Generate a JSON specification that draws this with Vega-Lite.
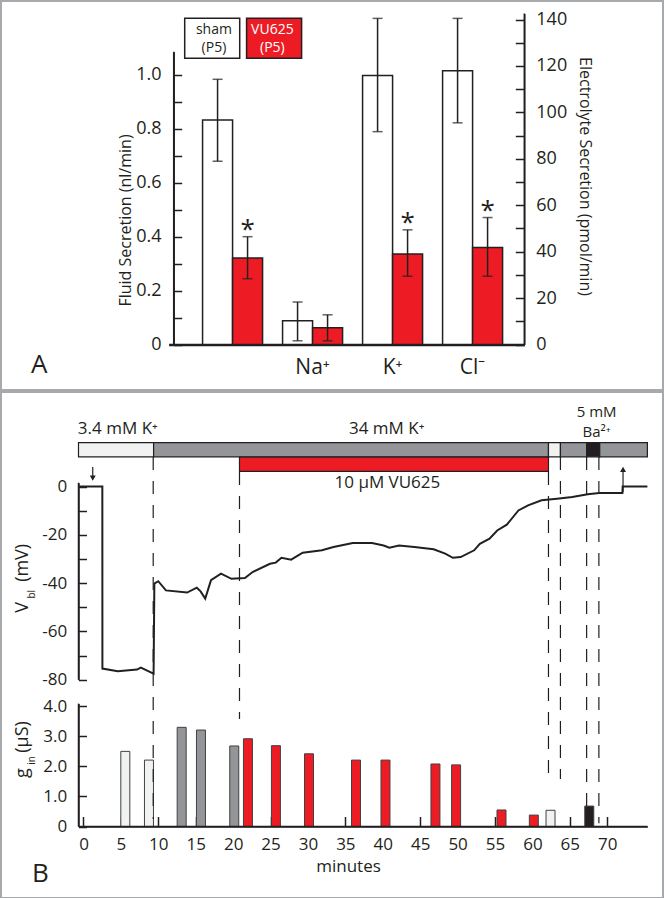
{
  "$schema": "https://vega.github.io/schema/vega-lite/v6.json",
  "background": "white",
  "padding": 0,
  "spacing": 0,
  "config": {
    "font": "Open Sans",
    "axis": {"domainColor": "#231f20", "tickColor": "#231f20", "labelColor": "#231f20", "titleColor": "#231f20", "domainWidth": 1.5, "tickWidth": 1.5, "grid": false, "labelFont": "Open Sans", "titleFont": "Open Sans", "titleFontWeight": "normal", "labelFlush": false, "labelOverlap": false},
    "text": {"font": "Open Sans", "color": "#231f20"}
  },
  "datasets": {
    "fluid": [
      {"group": "Fluid", "series": "sham", "val": 0.833, "lo": 0.680, "hi": 0.984, "star": false},
      {"group": "Fluid", "series": "VU625", "val": 0.321, "lo": 0.244, "hi": 0.400, "star": true}
    ],
    "ions": [
      {"group": "Na⁺", "series": "sham", "val": 10.2, "lo": 1.6, "hi": 18.3, "star": false},
      {"group": "Na⁺", "series": "VU625", "val": 7.2, "lo": 1.6, "hi": 12.8, "star": false},
      {"group": "K⁺", "series": "sham", "val": 115.9, "lo": 91.7, "hi": 140.5, "star": false},
      {"group": "K⁺", "series": "VU625", "val": 39.0, "lo": 29.4, "hi": 49.4, "star": true},
      {"group": "Cl⁻", "series": "sham", "val": 117.9, "lo": 95.5, "hi": 140.5, "star": false},
      {"group": "Cl⁻", "series": "VU625", "val": 41.8, "lo": 29.4, "hi": 54.7, "star": true}
    ],
    "legend": [
      {"series": "sham", "row": "lg"},
      {"series": "VU625", "row": "lg"}
    ],
    "legendText": [
      {"series": "sham", "line": "1", "txt": "sham"},
      {"series": "sham", "line": "2", "txt": "(P5)"},
      {"series": "VU625", "line": "1", "txt": "VU625"},
      {"series": "VU625", "line": "2", "txt": "(P5)"}
    ],
    "gin": [
      {"t": 5.59, "g": 2.50, "cond": "light"},
      {"t": 8.75, "g": 2.21, "cond": "light"},
      {"t": 13.12, "g": 3.30, "cond": "gray"},
      {"t": 15.70, "g": 3.21, "cond": "gray"},
      {"t": 20.15, "g": 2.68, "cond": "gray"},
      {"t": 21.98, "g": 2.92, "cond": "red"},
      {"t": 25.72, "g": 2.69, "cond": "red"},
      {"t": 30.14, "g": 2.42, "cond": "red"},
      {"t": 36.42, "g": 2.21, "cond": "red"},
      {"t": 40.36, "g": 2.21, "cond": "red"},
      {"t": 47.04, "g": 2.08, "cond": "red"},
      {"t": 49.80, "g": 2.05, "cond": "red"},
      {"t": 55.87, "g": 0.55, "cond": "red"},
      {"t": 60.19, "g": 0.38, "cond": "red"},
      {"t": 62.42, "g": 0.54, "cond": "light"},
      {"t": 67.60, "g": 0.68, "cond": "black"}
    ],
    "trace": [
      {"t": 0.10, "v": 0}, {"t": 3.13, "v": 0}, {"t": 3.14, "v": -75.4}, {"t": 5.16, "v": -76.5},
      {"t": 7.69, "v": -75.8}, {"t": 8.19, "v": -75.0}, {"t": 8.95, "v": -76.1}, {"t": 9.86, "v": -77.5},
      {"t": 9.96, "v": -40.2}, {"t": 10.47, "v": -39.2}, {"t": 11.48, "v": -43.0}, {"t": 14.26, "v": -43.9},
      {"t": 15.53, "v": -41.9}, {"t": 16.03, "v": -43.4}, {"t": 16.64, "v": -46.4}, {"t": 17.40, "v": -38.8},
      {"t": 18.71, "v": -36.1}, {"t": 20.08, "v": -38.2}, {"t": 21.85, "v": -37.9}, {"t": 22.86, "v": -35.4},
      {"t": 25.14, "v": -32.0}, {"t": 25.90, "v": -31.5}, {"t": 26.65, "v": -29.5}, {"t": 27.92, "v": -30.3},
      {"t": 29.44, "v": -27.4}, {"t": 31.97, "v": -26.4}, {"t": 33.48, "v": -25.0}, {"t": 36.01, "v": -23.4},
      {"t": 38.54, "v": -23.4}, {"t": 40.06, "v": -24.4}, {"t": 40.82, "v": -25.3}, {"t": 42.08, "v": -24.4},
      {"t": 44.11, "v": -25.0}, {"t": 46.63, "v": -26.0}, {"t": 48.15, "v": -27.8}, {"t": 49.16, "v": -29.5},
      {"t": 50.18, "v": -29.2}, {"t": 51.95, "v": -26.4}, {"t": 52.70, "v": -23.7}, {"t": 53.97, "v": -21.6},
      {"t": 54.98, "v": -18.2}, {"t": 56.24, "v": -15.8}, {"t": 57.76, "v": -9.9}, {"t": 59.03, "v": -7.8},
      {"t": 60.80, "v": -5.7}, {"t": 62.82, "v": -5.0}, {"t": 64.84, "v": -4.3}, {"t": 66.87, "v": -3.2},
      {"t": 68.38, "v": -2.7}, {"t": 71.42, "v": -2.7}, {"t": 71.45, "v": 0}, {"t": 74.7, "v": 0}
    ]
  },
  "resolve": {"scale": {"color": "independent"}},
  "vconcat": [
    {
      "width": 662,
      "height": 389,
      "view": {"stroke": "#a7a9ac", "strokeWidth": 2},
      "title": {"text": "A", "orient": "bottom", "anchor": "start", "frame": "group", "offset": -17, "dx": 30, "fontSize": 26, "fontWeight": "normal", "font": "Open Sans", "color": "#231f20", "baseline": "alphabetic"},
      "resolve": {"scale": {"x": "independent", "y": "independent"}},
      "layer": [
        {
          "data": {"name": "fluid"},
          "mark": {"type": "bar", "stroke": "#231f20", "strokeWidth": 1.5},
          "encoding": {
            "x": {"field": "group", "type": "nominal", "scale": {"domain": ["Fluid", "Na⁺", "K⁺", "Cl⁻"], "range": [167.6, 523.3], "paddingInner": 0.25, "paddingOuter": 0.348, "align": 0.61}, "axis": null},
            "xOffset": {"field": "series", "type": "nominal", "scale": {"domain": ["sham", "VU625"], "range": [0, 60]}},
            "y": {"field": "val", "type": "quantitative", "stack": null, "scale": {"domain": [0, 1.086], "range": [343.5, 50.8], "nice": false, "zero": false},
                  "axis": {"orient": "left", "offset": -172.7, "values": [0, 0.1, 0.2, 0.3, 0.4, 0.5, 0.6, 0.7, 0.8, 0.9, 1.0], "labelExpr": "round(datum.value * 10) % 2 === 0 ? (datum.value === 0 ? '0' : format(datum.value, '.1f')) : ''", "domain": true, "ticks": true, "tickSize": -8, "labelPadding": 20.7, "labelFontSize": 18, "title": "Fluid Secretion (nl/min)", "titleFontSize": 16, "titleAngle": 270, "titleX": -47.9, "titleY": 219, "titleAlign": "center", "titleBaseline": "middle",
                           "encode": {"ticks": {"update": {"stroke": {"value": "#231f20"}, "strokeOpacity": {"value": 1}, "opacity": {"value": 1}}}, "domain": {"update": {"stroke": {"value": "#231f20"}, "strokeOpacity": {"value": 1}, "opacity": {"value": 1}}}}}},
            "y2": {"datum": 0},
            "color": {"field": "series", "type": "nominal", "scale": {"domain": ["sham", "VU625"], "range": ["#ffffff", "#ed1c24"]}, "legend": null}
          }
        },
        {
          "data": {"name": "fluid"},
          "mark": {"type": "rule", "color": "#231f20", "strokeWidth": 1.5},
          "encoding": {
            "x": {"field": "group", "type": "nominal", "scale": {"domain": ["Fluid", "Na⁺", "K⁺", "Cl⁻"], "range": [167.6, 523.3], "paddingInner": 0.25, "paddingOuter": 0.348, "align": 0.61}, "axis": null},
            "xOffset": {"field": "series", "type": "nominal", "scale": {"domain": ["sham", "VU625"], "range": [0, 60]}},
            "y": {"field": "lo", "type": "quantitative", "scale": {"domain": [0, 1.086], "range": [343.5, 50.8], "nice": false, "zero": false}, "axis": null},
            "y2": {"field": "hi"}
          }
        },
        {
          "data": {"name": "fluid"},
          "mark": {"type": "tick", "color": "#231f20", "size": 10, "thickness": 1.5},
          "encoding": {
            "x": {"field": "group", "type": "nominal", "scale": {"domain": ["Fluid", "Na⁺", "K⁺", "Cl⁻"], "range": [167.6, 523.3], "paddingInner": 0.25, "paddingOuter": 0.348, "align": 0.61}, "axis": null},
            "xOffset": {"field": "series", "type": "nominal", "scale": {"domain": ["sham", "VU625"], "range": [0, 60]}},
            "y": {"field": "lo", "type": "quantitative", "scale": {"domain": [0, 1.086], "range": [343.5, 50.8], "nice": false, "zero": false}, "axis": null}
          }
        },
        {
          "data": {"name": "fluid"},
          "mark": {"type": "tick", "color": "#231f20", "size": 10, "thickness": 1.5},
          "encoding": {
            "x": {"field": "group", "type": "nominal", "scale": {"domain": ["Fluid", "Na⁺", "K⁺", "Cl⁻"], "range": [167.6, 523.3], "paddingInner": 0.25, "paddingOuter": 0.348, "align": 0.61}, "axis": null},
            "xOffset": {"field": "series", "type": "nominal", "scale": {"domain": ["sham", "VU625"], "range": [0, 60]}},
            "y": {"field": "hi", "type": "quantitative", "scale": {"domain": [0, 1.086], "range": [343.5, 50.8], "nice": false, "zero": false}, "axis": null}
          }
        },
        {
          "data": {"name": "fluid"},
          "transform": [{"filter": "datum.star"}],
          "mark": {"type": "text", "text": "*", "fontSize": 26, "baseline": "alphabetic", "dy": 1},
          "encoding": {
            "x": {"field": "group", "type": "nominal", "scale": {"domain": ["Fluid", "Na⁺", "K⁺", "Cl⁻"], "range": [167.6, 523.3], "paddingInner": 0.25, "paddingOuter": 0.348, "align": 0.61}, "axis": null},
            "xOffset": {"field": "series", "type": "nominal", "scale": {"domain": ["sham", "VU625"], "range": [0, 60]}},
            "y": {"field": "hi", "type": "quantitative", "scale": {"domain": [0, 1.086], "range": [343.5, 50.8], "nice": false, "zero": false}, "axis": null}
          }
        },
        {
          "data": {"values": [{"side": "left", "lo": 0, "hi": 1.086}]},
          "mark": {"type": "rule", "color": "#231f20", "strokeWidth": 1.5},
          "encoding": {
            "x": {"field": "side", "type": "nominal", "scale": {"type": "point", "domain": ["left", "right"], "range": [172.7, 523.3], "padding": 0}, "axis": null},
            "y": {"field": "lo", "type": "quantitative", "scale": {"domain": [0, 1.086], "range": [343.5, 50.8], "nice": false, "zero": false}, "axis": null},
            "y2": {"field": "hi"}
          }
        },
        {
          "data": {"name": "ions"},
          "mark": {"type": "bar", "stroke": "#231f20", "strokeWidth": 1.5},
          "encoding": {
            "x": {"field": "group", "type": "nominal", "scale": {"domain": ["Fluid", "Na⁺", "K⁺", "Cl⁻"], "range": [167.6, 523.3], "paddingInner": 0.25, "paddingOuter": 0.348, "align": 0.61},
                  "axis": {"orient": "bottom", "offset": -45.5, "ticks": false, "tickSize": 0, "domain": true, "domainWidth": 2.5, "labelPadding": 22.5, "labelBaseline": "middle", "labelFontSize": 21, "labelAngle": 0, "labelExpr": "datum.value === 'Fluid' ? '' : datum.value", "title": null}},
            "xOffset": {"field": "series", "type": "nominal", "scale": {"domain": ["sham", "VU625"], "range": [0, 60]}},
            "y": {"field": "val", "type": "quantitative", "stack": null, "scale": {"domain": [0, 142.6], "range": [343.5, 12.5], "nice": false, "zero": false},
                  "axis": {"orient": "right", "offset": -138.7, "values": [0, 10, 20, 30, 40, 50, 60, 70, 80, 90, 100, 110, 120, 130, 140], "labelExpr": "datum.value % 20 === 0 ? '' + datum.value : ''", "domain": true, "ticks": true, "tickSize": -9, "labelPadding": 20.5, "labelFontSize": 18, "title": "Electrolyte Secretion (pmol/min)", "titleFontSize": 16, "titleAngle": 90, "titleX": 60.2, "titleY": 175, "titleAlign": "center", "titleBaseline": "middle",
                           "encode": {"ticks": {"update": {"stroke": {"value": "#231f20"}, "strokeOpacity": {"value": 1}, "opacity": {"value": 1}}}, "domain": {"update": {"stroke": {"value": "#231f20"}, "strokeOpacity": {"value": 1}, "opacity": {"value": 1}}}}}},
            "y2": {"datum": 0},
            "color": {"field": "series", "type": "nominal", "scale": {"domain": ["sham", "VU625"], "range": ["#ffffff", "#ed1c24"]}, "legend": null}
          }
        },
        {
          "data": {"name": "ions"},
          "mark": {"type": "rule", "color": "#231f20", "strokeWidth": 1.5},
          "encoding": {
            "x": {"field": "group", "type": "nominal", "scale": {"domain": ["Fluid", "Na⁺", "K⁺", "Cl⁻"], "range": [167.6, 523.3], "paddingInner": 0.25, "paddingOuter": 0.348, "align": 0.61}, "axis": null},
            "xOffset": {"field": "series", "type": "nominal", "scale": {"domain": ["sham", "VU625"], "range": [0, 60]}},
            "y": {"field": "lo", "type": "quantitative", "scale": {"domain": [0, 142.6], "range": [343.5, 12.5], "nice": false, "zero": false}, "axis": null},
            "y2": {"field": "hi"}
          }
        },
        {
          "data": {"name": "ions"},
          "mark": {"type": "tick", "color": "#231f20", "size": 10, "thickness": 1.5},
          "encoding": {
            "x": {"field": "group", "type": "nominal", "scale": {"domain": ["Fluid", "Na⁺", "K⁺", "Cl⁻"], "range": [167.6, 523.3], "paddingInner": 0.25, "paddingOuter": 0.348, "align": 0.61}, "axis": null},
            "xOffset": {"field": "series", "type": "nominal", "scale": {"domain": ["sham", "VU625"], "range": [0, 60]}},
            "y": {"field": "lo", "type": "quantitative", "scale": {"domain": [0, 142.6], "range": [343.5, 12.5], "nice": false, "zero": false}, "axis": null}
          }
        },
        {
          "data": {"name": "ions"},
          "mark": {"type": "tick", "color": "#231f20", "size": 10, "thickness": 1.5},
          "encoding": {
            "x": {"field": "group", "type": "nominal", "scale": {"domain": ["Fluid", "Na⁺", "K⁺", "Cl⁻"], "range": [167.6, 523.3], "paddingInner": 0.25, "paddingOuter": 0.348, "align": 0.61}, "axis": null},
            "xOffset": {"field": "series", "type": "nominal", "scale": {"domain": ["sham", "VU625"], "range": [0, 60]}},
            "y": {"field": "hi", "type": "quantitative", "scale": {"domain": [0, 142.6], "range": [343.5, 12.5], "nice": false, "zero": false}, "axis": null}
          }
        },
        {
          "data": {"name": "ions"},
          "transform": [{"filter": "datum.star"}],
          "mark": {"type": "text", "text": "*", "fontSize": 26, "baseline": "alphabetic", "dy": 1},
          "encoding": {
            "x": {"field": "group", "type": "nominal", "scale": {"domain": ["Fluid", "Na⁺", "K⁺", "Cl⁻"], "range": [167.6, 523.3], "paddingInner": 0.25, "paddingOuter": 0.348, "align": 0.61}, "axis": null},
            "xOffset": {"field": "series", "type": "nominal", "scale": {"domain": ["sham", "VU625"], "range": [0, 60]}},
            "y": {"field": "hi", "type": "quantitative", "scale": {"domain": [0, 142.6], "range": [343.5, 12.5], "nice": false, "zero": false}, "axis": null}
          }
        },
        {
          "data": {"values": [{"side": "right", "lo": 0, "hi": 142.6}]},
          "mark": {"type": "rule", "color": "#231f20", "strokeWidth": 1.5},
          "encoding": {
            "x": {"field": "side", "type": "nominal", "scale": {"type": "point", "domain": ["left", "right"], "range": [172.7, 523.3], "padding": 0}, "axis": null},
            "y": {"field": "lo", "type": "quantitative", "scale": {"domain": [0, 142.6], "range": [343.5, 12.5], "nice": false, "zero": false}, "axis": null},
            "y2": {"field": "hi"}
          }
        },
        {
          "data": {"name": "legend"},
          "mark": {"type": "rect", "stroke": "#231f20", "strokeWidth": 1.5},
          "encoding": {
            "x": {"field": "series", "type": "nominal", "scale": {"domain": ["sham", "VU625"], "range": [183.7, 300.6], "paddingInner": 0.111, "paddingOuter": 0}, "axis": null},
            "y": {"field": "row", "type": "nominal", "scale": {"domain": ["lg"], "range": [17.3, 57.3], "paddingInner": 0, "paddingOuter": 0}, "axis": null},
            "color": {"field": "series", "type": "nominal", "scale": {"domain": ["sham", "VU625"], "range": ["#ffffff", "#ed1c24"]}, "legend": null}
          }
        },
        {
          "data": {"name": "legendText"},
          "mark": {"type": "text", "fontSize": 14, "baseline": "middle"},
          "encoding": {
            "x": {"field": "series", "type": "nominal", "scale": {"domain": ["sham", "VU625"], "range": [183.7, 300.6], "paddingInner": 0.111, "paddingOuter": 0}, "axis": null},
            "y": {"field": "line", "type": "nominal", "scale": {"domain": ["1", "2"], "range": [19.5, 55.5], "paddingInner": 0, "paddingOuter": 0}, "axis": null},
            "text": {"field": "txt"},
            "color": {"condition": {"test": "datum.series === 'VU625'", "value": "#ffffff"}, "value": "#231f20"}
          }
        }
      ]
    },
    {
      "width": 662,
      "height": 506,
      "view": {"stroke": "#a7a9ac", "strokeWidth": 2},
      "resolve": {"scale": {"x": "independent", "y": "independent"}},
      "layer": [
        {
          "data": {"name": "gin"},
          "mark": {"type": "bar", "width": 9, "stroke": "#414042", "strokeWidth": 1},
          "encoding": {
            "x": {"field": "t", "type": "quantitative", "scale": {"domain": [0, 74.7], "range": [77.5, 646.4], "nice": false, "zero": false},
                  "axis": {"orient": "bottom", "offset": -71.5, "values": [0, 5, 10, 15, 20, 25, 30, 35, 40, 45, 50, 55, 60, 65, 70], "domain": true, "ticks": true, "tickSize": -10, "labelPadding": 27.8, "labelBaseline": "middle", "labelFontSize": 17, "title": "minutes", "titleFontSize": 17, "titleX": 347, "titleY": 40, "titleBaseline": "middle", "titleAlign": "center",
                           "encode": {"ticks": {"update": {"stroke": {"value": "#231f20"}, "strokeOpacity": {"value": 1}, "opacity": {"value": 1}}}, "domain": {"update": {"stroke": {"value": "#231f20"}, "strokeOpacity": {"value": 1}, "opacity": {"value": 1}}}}}},
            "y": {"field": "g", "type": "quantitative", "stack": null, "scale": {"domain": [0, 4.09], "range": [434.5, 311.6], "nice": false, "zero": false},
                  "axis": {"orient": "left", "offset": -77.5, "values": [0, 1, 2, 3, 4], "labelExpr": "datum.value === 0 ? '0' : format(datum.value, '.1f')", "domain": true, "ticks": true, "tickSize": -8, "labelPadding": 19.8, "labelFontSize": 17, "title": null,
                           "encode": {"ticks": {"update": {"stroke": {"value": "#231f20"}, "strokeOpacity": {"value": 1}, "opacity": {"value": 1}}}, "domain": {"update": {"stroke": {"value": "#231f20"}, "strokeOpacity": {"value": 1}, "opacity": {"value": 1}}}}}},
            "y2": {"datum": 0},
            "color": {"field": "cond", "type": "nominal", "scale": {"domain": ["light", "gray", "red", "black"], "range": ["#f1f2f2", "#939598", "#ed1c24", "#231f20"]}, "legend": null}
          }
        },
        {
          "data": {"values": [{"t0": 0, "t1": 74.7, "g": 0}]},
          "mark": {"type": "rule", "color": "#231f20", "strokeWidth": 1.5},
          "encoding": {
            "x": {"field": "t0", "type": "quantitative", "scale": {"domain": [0, 74.7], "range": [77.5, 646.4], "nice": false, "zero": false}, "axis": null},
            "x2": {"field": "t1"},
            "y": {"field": "g", "type": "quantitative", "scale": {"domain": [0, 4.09], "range": [434.5, 311.6], "nice": false, "zero": false}, "axis": null}
          }
        },
        {
          "data": {"values": [{"t": 0, "lo": 0, "hi": 4.09}]},
          "mark": {"type": "rule", "color": "#231f20", "strokeWidth": 1.5},
          "encoding": {
            "x": {"field": "t", "type": "quantitative", "scale": {"domain": [0, 74.7], "range": [77.5, 646.4], "nice": false, "zero": false}, "axis": null},
            "y": {"field": "lo", "type": "quantitative", "scale": {"domain": [0, 4.09], "range": [434.5, 311.6], "nice": false, "zero": false}, "axis": null},
            "y2": {"field": "hi"}
          }
        },
        {
          "data": {"values": [
            {"txt": "g", "t": -6.63, "g": 1.78},
            {"txt": "(μS)", "t": -6.63, "g": 2.98}
          ]},
          "mark": {"type": "text", "angle": 270, "fontSize": 18, "baseline": "alphabetic", "align": "center"},
          "encoding": {
            "x": {"field": "t", "type": "quantitative", "scale": {"domain": [0, 74.7], "range": [77.5, 646.4], "nice": false, "zero": false}, "axis": null},
            "y": {"field": "g", "type": "quantitative", "scale": {"domain": [0, 4.09], "range": [434.5, 311.6], "nice": false, "zero": false}, "axis": null},
            "text": {"field": "txt"}
          }
        },
        {
          "data": {"values": [
            {"txt": "in", "t": -5.65, "g": 2.20}
          ]},
          "mark": {"type": "text", "angle": 270, "fontSize": 10, "baseline": "alphabetic", "align": "center"},
          "encoding": {
            "x": {"field": "t", "type": "quantitative", "scale": {"domain": [0, 74.7], "range": [77.5, 646.4], "nice": false, "zero": false}, "axis": null},
            "y": {"field": "g", "type": "quantitative", "scale": {"domain": [0, 4.09], "range": [434.5, 311.6], "nice": false, "zero": false}, "axis": null},
            "text": {"field": "txt"}
          }
        },
        {
          "data": {"values": [
            {"t": 9.81, "top": 12.2, "bot": -137.7},
            {"t": 21.14, "top": 6.0, "bot": -96.3},
            {"t": 61.71, "top": 6.0, "bot": -121.1},
            {"t": 63.28, "top": 12.2, "bot": -121.1},
            {"t": 66.72, "top": 12.2, "bot": -139.5},
            {"t": 68.33, "top": 12.2, "bot": -139.5}
          ]},
          "mark": {"type": "rule", "color": "#231f20", "strokeWidth": 1.2, "strokeDash": [13, 11]},
          "encoding": {
            "x": {"field": "t", "type": "quantitative", "scale": {"domain": [0, 74.7], "range": [77.5, 646.4], "nice": false, "zero": false}, "axis": null},
            "y": {"field": "top", "type": "quantitative", "scale": {"domain": [-80, 1.6], "range": [287.7, 90.7], "nice": false, "zero": false}, "axis": null},
            "y2": {"field": "bot"}
          }
        },
        {
          "data": {"name": "trace"},
          "mark": {"type": "line", "color": "#231f20", "strokeWidth": 2},
          "encoding": {
            "x": {"field": "t", "type": "quantitative", "scale": {"domain": [0, 74.7], "range": [77.5, 646.4], "nice": false, "zero": false}, "axis": null},
            "y": {"field": "v", "type": "quantitative", "scale": {"domain": [-80, 1.6], "range": [287.7, 90.7], "nice": false, "zero": false},
                  "axis": {"orient": "left", "offset": -77.5, "values": [-80, -70, -60, -50, -40, -30, -20, -10, 0], "labelExpr": "datum.value % 20 === 0 ? (datum.value === 0 ? '0' : '-' + abs(datum.value)) : ''", "domain": true, "ticks": true, "tickSize": -8, "labelPadding": 19.8, "labelFontSize": 17, "title": null,
                           "encode": {"ticks": {"update": {"stroke": {"value": "#231f20"}, "strokeOpacity": {"value": 1}, "opacity": {"value": 1}}}, "domain": {"update": {"stroke": {"value": "#231f20"}, "strokeOpacity": {"value": 1}, "opacity": {"value": 1}}}}}}
          }
        },
        {
          "data": {"values": [{"t": 0, "lo": -80, "hi": 1.6}]},
          "mark": {"type": "rule", "color": "#231f20", "strokeWidth": 1.5},
          "encoding": {
            "x": {"field": "t", "type": "quantitative", "scale": {"domain": [0, 74.7], "range": [77.5, 646.4], "nice": false, "zero": false}, "axis": null},
            "y": {"field": "lo", "type": "quantitative", "scale": {"domain": [-80, 1.6], "range": [287.7, 90.7], "nice": false, "zero": false}, "axis": null},
            "y2": {"field": "hi"}
          }
        },
        {
          "data": {"values": [
            {"t": 1.87, "a": 8.1, "b": 3.5},
            {"t": 71.5, "a": -2.3, "b": 7.1}
          ]},
          "mark": {"type": "rule", "color": "#231f20", "strokeWidth": 1.2},
          "encoding": {
            "x": {"field": "t", "type": "quantitative", "scale": {"domain": [0, 74.7], "range": [77.5, 646.4], "nice": false, "zero": false}, "axis": null},
            "y": {"field": "a", "type": "quantitative", "scale": {"domain": [-80, 1.6], "range": [287.7, 90.7], "nice": false, "zero": false}, "axis": null},
            "y2": {"field": "b"}
          }
        },
        {
          "data": {"values": [
            {"t": 1.87, "v": 3.5, "dir": "down"},
            {"t": 71.5, "v": 7.1, "dir": "up"}
          ]},
          "mark": {"type": "point", "filled": true, "size": 35, "color": "#231f20", "opacity": 1},
          "encoding": {
            "x": {"field": "t", "type": "quantitative", "scale": {"domain": [0, 74.7], "range": [77.5, 646.4], "nice": false, "zero": false}, "axis": null},
            "y": {"field": "v", "type": "quantitative", "scale": {"domain": [-80, 1.6], "range": [287.7, 90.7], "nice": false, "zero": false}, "axis": null},
            "shape": {"field": "dir", "type": "nominal", "scale": {"domain": ["down", "up"], "range": ["triangle-down", "triangle-up"]}, "legend": null}
          }
        },
        {
          "data": {"values": [
            {"txt": "3.4 mM K⁺", "t": 5.16, "v": 23.9},
            {"txt": "34 mM K⁺", "t": 40.46, "v": 23.9},
            {"txt": "10 μM VU625", "t": 40.56, "v": 1.45}
          ]},
          "mark": {"type": "text", "fontSize": 17, "baseline": "middle", "align": "center"},
          "encoding": {
            "x": {"field": "t", "type": "quantitative", "scale": {"domain": [0, 74.7], "range": [77.5, 646.4], "nice": false, "zero": false}, "axis": null},
            "y": {"field": "v", "type": "quantitative", "scale": {"domain": [-80, 1.6], "range": [287.7, 90.7], "nice": false, "zero": false}, "axis": null},
            "text": {"field": "txt"}
          }
        },
        {
          "data": {"values": [
            {"txt": "5 mM", "t": 68.03, "v": 31.0},
            {"txt": "Ba²⁺", "t": 68.03, "v": 22.6}
          ]},
          "mark": {"type": "text", "fontSize": 15, "baseline": "middle", "align": "center"},
          "encoding": {
            "x": {"field": "t", "type": "quantitative", "scale": {"domain": [0, 74.7], "range": [77.5, 646.4], "nice": false, "zero": false}, "axis": null},
            "y": {"field": "v", "type": "quantitative", "scale": {"domain": [-80, 1.6], "range": [287.7, 90.7], "nice": false, "zero": false}, "axis": null},
            "text": {"field": "txt"}
          }
        },
        {
          "data": {"values": [
            {"txt": "V", "t": -6.63, "v": -50.1},
            {"txt": "(mV)", "t": -6.63, "v": -31.6}
          ]},
          "mark": {"type": "text", "angle": 270, "fontSize": 18, "baseline": "alphabetic", "align": "center"},
          "encoding": {
            "x": {"field": "t", "type": "quantitative", "scale": {"domain": [0, 74.7], "range": [77.5, 646.4], "nice": false, "zero": false}, "axis": null},
            "y": {"field": "v", "type": "quantitative", "scale": {"domain": [-80, 1.6], "range": [287.7, 90.7], "nice": false, "zero": false}, "axis": null},
            "text": {"field": "txt"}
          }
        },
        {
          "data": {"values": [
            {"txt": "bl", "t": -5.65, "v": -44.6}
          ]},
          "mark": {"type": "text", "angle": 270, "fontSize": 10, "baseline": "alphabetic", "align": "center"},
          "encoding": {
            "x": {"field": "t", "type": "quantitative", "scale": {"domain": [0, 74.7], "range": [77.5, 646.4], "nice": false, "zero": false}, "axis": null},
            "y": {"field": "v", "type": "quantitative", "scale": {"domain": [-80, 1.6], "range": [287.7, 90.7], "nice": false, "zero": false}, "axis": null},
            "text": {"field": "txt"}
          }
        },
        {
          "data": {"values": [
            {"txt": "B", "t": -4.99, "v": -163.8}
          ]},
          "mark": {"type": "text", "fontSize": 26, "baseline": "alphabetic", "align": "center"},
          "encoding": {
            "x": {"field": "t", "type": "quantitative", "scale": {"domain": [0, 74.7], "range": [77.5, 646.4], "nice": false, "zero": false}, "axis": null},
            "y": {"field": "v", "type": "quantitative", "scale": {"domain": [-80, 1.6], "range": [287.7, 90.7], "nice": false, "zero": false}, "axis": null},
            "text": {"field": "txt"}
          }
        },
        {
          "data": {"values": [
            {"start": 0, "end": 9.86, "row": "K", "cond": "light"},
            {"start": 9.86, "end": 61.71, "row": "K", "cond": "gray"},
            {"start": 61.71, "end": 63.28, "row": "K", "cond": "light"},
            {"start": 63.28, "end": 66.72, "row": "K", "cond": "gray"},
            {"start": 66.72, "end": 68.44, "row": "K", "cond": "black"},
            {"start": 68.44, "end": 74.7, "row": "K", "cond": "gray"},
            {"start": 21.14, "end": 61.71, "row": "drug", "cond": "red"}
          ]},
          "mark": {"type": "rect", "stroke": "#231f20", "strokeWidth": 1.2},
          "encoding": {
            "x": {"field": "start", "type": "quantitative", "scale": {"domain": [0, 74.7], "range": [77.5, 646.4], "nice": false, "zero": false}, "axis": null},
            "x2": {"field": "end"},
            "y": {"field": "row", "type": "nominal", "scale": {"domain": ["K", "drug"], "range": [50.7, 79.3], "paddingInner": 0.03, "paddingOuter": 0}, "axis": null},
            "color": {"field": "cond", "type": "nominal", "scale": {"domain": ["light", "gray", "red", "black"], "range": ["#f1f2f2", "#939598", "#ed1c24", "#231f20"]}, "legend": null}
          }
        }
      ]
    }
  ]
}
